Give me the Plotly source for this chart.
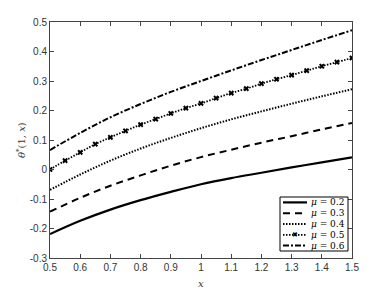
import plotly.graph_objects as go

x_coarse = [0.5, 0.6, 0.7, 0.8, 0.9, 1.0, 1.1, 1.2, 1.3, 1.4, 1.5]
x_fine = [0.5, 0.55, 0.6, 0.65, 0.7, 0.75, 0.8, 0.85, 0.9, 0.95, 1.0,
          1.05, 1.1, 1.15, 1.2, 1.25, 1.3, 1.35, 1.4, 1.45, 1.5]

mu02 = [-0.219, -0.174, -0.136, -0.104, -0.076, -0.050, -0.029, -0.011, 0.007, 0.024, 0.041]
mu03 = [-0.143, -0.096, -0.055, -0.020, 0.013, 0.042, 0.067, 0.091, 0.113, 0.136, 0.158]
mu04 = [-0.069, -0.017, 0.030, 0.071, 0.107, 0.140, 0.170, 0.197, 0.223, 0.248, 0.272]
mu05 = [0.000, 0.030, 0.058, 0.086, 0.109, 0.131, 0.152, 0.171, 0.190, 0.208, 0.224,
        0.242, 0.259, 0.274, 0.291, 0.306, 0.320, 0.335, 0.350, 0.364, 0.378]
mu06 = [0.066, 0.124, 0.177, 0.222, 0.263, 0.300, 0.336, 0.371, 0.405, 0.439, 0.472]

legend_labels = ["<i>μ</i> = 0.2", "<i>μ</i> = 0.3", "<i>μ</i> = 0.4", "<i>μ</i> = 0.5", "<i>μ</i> = 0.6"]

xticks = [0.5, 0.6, 0.7, 0.8, 0.9, 1.0, 1.1, 1.2, 1.3, 1.4, 1.5]
xticklabels = ["0.5", "0.6", "0.7", "0.8", "0.9", "1", "1.1", "1.2", "1.3", "1.4", "1.5"]
yticks = [-0.3, -0.2, -0.1, 0.0, 0.1, 0.2, 0.3, 0.4, 0.5]
yticklabels = ["-0.3", "-0.2", "-0.1", "0", "0.1", "0.2", "0.3", "0.4", "0.5"]

styles = [
    dict(width=2.2, dash="solid"),
    dict(width=2.0, dash="7px,5px"),
    dict(width=2.0, dash="1.5px,1.5px"),
    dict(width=1.8, dash="1.5px,1.5px"),
    dict(width=2.0, dash="6px,2px,2px,2px"),
]

fig = go.Figure()
series = [(x_coarse, mu02), (x_coarse, mu03), (x_coarse, mu04), (x_fine, mu05), (x_coarse, mu06)]
for i, (xs, ys) in enumerate(series):
    mode = "lines+markers" if i == 3 else "lines"
    fig.add_trace(go.Scatter(x=xs, y=ys, mode=mode,
                             line=dict(color="black", width=styles[i]["width"], dash=styles[i]["dash"], shape="spline"),
                             marker=dict(symbol="x", size=5, color="black"),
                             name=legend_labels[i], showlegend=False))

axis_common = dict(showline=True, linecolor="#444444", linewidth=1, mirror="ticks", ticks="inside",
                   ticklen=4, tickcolor="#444444", showgrid=False, zeroline=False, automargin=False,
                   tickfont=dict(family="Liberation Sans, Arial", size=10, color="#333333"))
fig.update_xaxes(range=[0.5, 1.5], tickvals=xticks, ticktext=xticklabels, **axis_common)
fig.update_yaxes(range=[-0.3, 0.5], tickvals=yticks, ticktext=yticklabels, **axis_common)

# page offset of the figure (body margin) and target plot-area geometry in screen px
OFF = 8
FW, FH = 388 - OFF, 291 - OFF
L, T, W, H = 50, 22, 302, 236

def px(xp):
    return (xp - L) / W

def py(yp):
    return (T + H - yp) / H

annotations = [
    dict(text="<i>x</i>", x=px(201), y=py(283), xref="paper", yref="paper", showarrow=False,
         xanchor="center", yanchor="middle",
         font=dict(family="DejaVu Serif, serif", size=10, color="#333333")),
    dict(text="<i>θ</i><sup>*</sup>(1, <i>x</i>)", x=px(21), y=py(140), xref="paper", yref="paper",
         showarrow=False, textangle=-90, xanchor="center", yanchor="middle",
         font=dict(family="DejaVu Serif, serif", size=10, color="#333333")),
]
shapes = [dict(type="rect", xref="paper", yref="paper", x0=px(280), x1=px(348), y0=py(251), y1=py(197),
               line=dict(color="black", width=1), fillcolor="white", layer="above")]

row_h = 54 / 5
for i, lab in enumerate(legend_labels):
    yc = 197 + row_h * (i + 0.5)
    shapes.append(dict(type="line", xref="paper", yref="paper", x0=px(283), x1=px(307), y0=py(yc), y1=py(yc),
                       line=dict(color="black", width=styles[i]["width"], dash=styles[i]["dash"]), layer="above"))
    annotations.append(dict(text=lab, x=px(309), y=py(yc), xref="paper", yref="paper", xanchor="left",
                            yanchor="middle", showarrow=False,
                            font=dict(family="DejaVu Serif, serif", size=9, color="black")))
    if i == 3:
        annotations.append(dict(text="✖", x=px(295), y=py(yc), xref="paper", yref="paper",
                                xanchor="center", yanchor="middle", showarrow=False,
                                font=dict(size=7, color="black")))

fig.update_layout(
    width=FW, height=FH,
    margin=dict(l=L - OFF, r=FW - (L - OFF) - W, t=T - OFF, b=FH - (T - OFF) - H),
    plot_bgcolor="white", paper_bgcolor="white",
    showlegend=False,
    annotations=annotations, shapes=shapes,
)

fig.write_html("out.html")
